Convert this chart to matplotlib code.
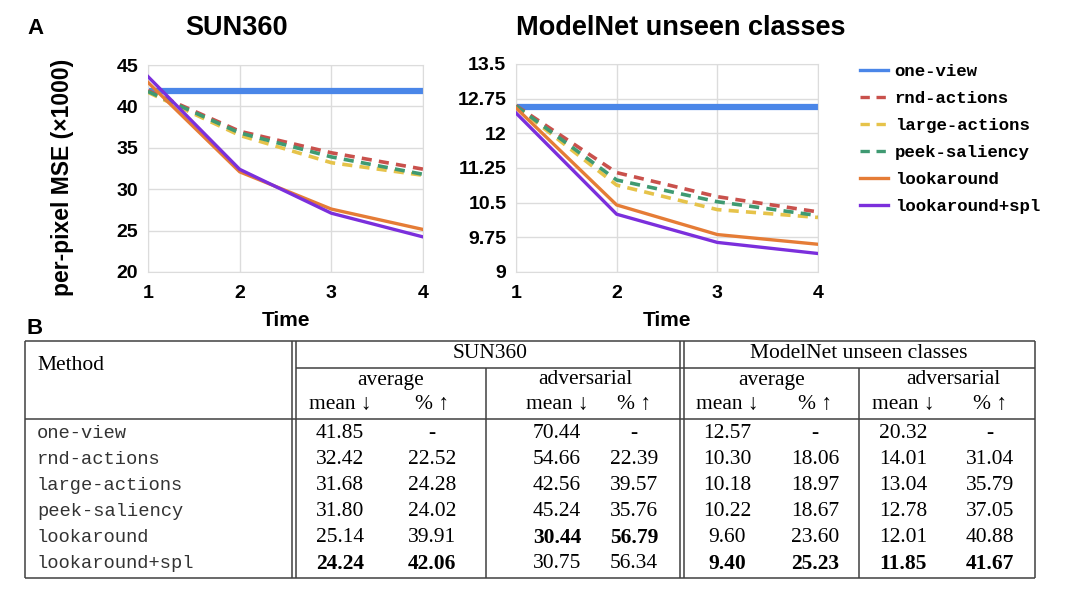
import matplotlib
matplotlib.use('Agg')
import matplotlib.pyplot as plt
from matplotlib.lines import Line2D

# ---- data ----
time_steps = [1, 2, 3, 4]

methods = ['one-view', 'rnd-actions', 'large-actions', 'peek-saliency',
           'lookaround', 'lookaround+spl']

sun_one_view = [41.85, 41.85, 41.85, 41.85]
sun_rnd = [41.9, 37.0, 34.4, 32.42]
sun_large = [41.7, 36.5, 33.2, 31.68]
sun_peek = [41.8, 36.8, 33.9, 31.80]
sun_look = [42.9, 32.1, 27.6, 25.14]
sun_spl = [43.6, 32.4, 27.1, 24.24]

mn_one_view = [12.57, 12.57, 12.57, 12.57]
mn_rnd = [12.6, 11.15, 10.63, 10.30]
mn_large = [12.58, 10.88, 10.35, 10.18]
mn_peek = [12.59, 10.99, 10.52, 10.22]
mn_look = [12.55, 10.45, 9.81, 9.60]
mn_spl = [12.44, 10.25, 9.64, 9.40]

sun_ticks = [20, 25, 30, 35, 40, 45]
mn_ticks = [9, 9.75, 10.5, 11.25, 12, 12.75, 13.5]
mn_tick_labels = ['9', '9.75', '10.5', '11.25', '12', '12.75', '13.5']

# table values (strings as printed)
sun_avg_mean = ['41.85', '32.42', '31.68', '31.80', '25.14', '24.24']
sun_avg_pct = ['-', '22.52', '24.28', '24.02', '39.91', '42.06']
sun_adv_mean = ['70.44', '54.66', '42.56', '45.24', '30.44', '30.75']
sun_adv_pct = ['-', '22.39', '39.57', '35.76', '56.79', '56.34']
mn_avg_mean = ['12.57', '10.30', '10.18', '10.22', '9.60', '9.40']
mn_avg_pct = ['-', '18.06', '18.97', '18.67', '23.60', '25.23']
mn_adv_mean = ['20.32', '14.01', '13.04', '12.78', '12.01', '11.85']
mn_adv_pct = ['-', '31.04', '35.79', '37.05', '40.88', '41.67']
# which cells are bold: (row, col)
bold_cells = {(4, 2), (4, 3), (5, 0), (5, 1), (5, 4), (5, 5), (5, 6), (5, 7)}

colors = ['#4a86e8', '#c9514c', '#e6c34a', '#3f9a72', '#e57c36', '#7b2fdc']

W, H = 1080, 592
fig = plt.figure(figsize=(W / 100, H / 100), dpi=100)

sans = ['Liberation Sans', 'DejaVu Sans']
serif = ['Liberation Serif', 'DejaVu Serif']
mono = ['Liberation Mono', 'DejaVu Sans Mono']


def px_axes(x0, y0, x1, y1):
    return fig.add_axes([x0 / W, 1 - y1 / H, (x1 - x0) / W, (y1 - y0) / H])


def style_axes(ax):
    ax.grid(True, color='#dcdcdc', lw=1)
    ax.set_axisbelow(True)
    for s in ax.spines.values():
        s.set_color('#dcdcdc')
    ax.tick_params(axis='y', length=0, pad=7)
    ax.tick_params(axis='x', length=0, pad=9)
    for lab in ax.get_xticklabels() + ax.get_yticklabels():
        lab.set_fontfamily(sans)
        lab.set_fontweight('bold')
        lab.set_fontsize(14)
    ax.set_xlim(1, 4)
    ax.set_xticks(time_steps)
    ax.set_xlabel('Time', fontsize=15, fontweight='bold', family=sans, labelpad=7)


def draw_lines(ax, series):
    handles = []
    for i, (name, vals) in enumerate(zip(methods, series)):
        if i == 0:
            h, = ax.plot(time_steps, vals, color=colors[i], lw=4.5, label=name,
                         solid_capstyle='butt', zorder=2)
        elif i in (1, 2, 3):
            h, = ax.plot(time_steps, vals, color=colors[i], lw=2.6, label=name,
                         dashes=(2.8, 2.0), zorder=3)
        else:
            h, = ax.plot(time_steps, vals, color=colors[i], lw=2.4, label=name, zorder=4)
        handles.append(h)
    return handles


ax1 = px_axes(148, 65, 423, 272)
handles = draw_lines(ax1, [sun_one_view, sun_rnd, sun_large, sun_peek, sun_look, sun_spl])
ax1.set_ylim(20, 45)
ax1.set_yticks(sun_ticks)
style_axes(ax1)

ax2 = px_axes(516, 64, 818, 272)
draw_lines(ax2, [mn_one_view, mn_rnd, mn_large, mn_peek, mn_look, mn_spl])
ax2.set_ylim(9, 13.5)
ax2.set_yticks(mn_ticks)
ax2.set_yticklabels(mn_tick_labels)
style_axes(ax2)

fig.text(237 / W, 1 - 28 / H, 'SUN360', ha='center', va='center',
         fontsize=19.5, fontweight='bold', family=sans)
fig.text(681 / W, 1 - 28 / H, 'ModelNet unseen classes', ha='center', va='center',
         fontsize=19.5, fontweight='bold', family=sans)
fig.text(35 / W, 1 - 28 / H, 'A', ha='center', va='center',
         fontsize=16, fontweight='bold', family=sans)
fig.text(35 / W, 1 - 328 / H, 'B', ha='center', va='center',
         fontsize=16, fontweight='bold', family=sans)
fig.text(62 / W, 1 - 177 / H, 'per-pixel MSE (\u00d71000)', ha='center', va='center',
         rotation=90, fontsize=16.5, fontweight='bold', family=sans)

leg_handles = [Line2D([], [], color=h.get_color(), lw=2.4,
                      dashes=(2.8, 2.0) if i in (1, 2, 3) else (None, None))
               for i, h in enumerate(handles)]
fig.legend(leg_handles, methods, loc='upper left',
           bbox_to_anchor=(860 / W, 1 - 64 / H), frameon=False,
           prop={'family': mono, 'weight': 'bold', 'size': 12.5},
           handlelength=1.6, handletextpad=0.4, labelspacing=0.68, borderpad=0,
           borderaxespad=0)

# ---- table (panel B) ----
tab = fig.add_axes([0, 0, 1, 1])
tab.set_xlim(0, W)
tab.set_ylim(H, 0)
tab.axis('off')

lc = '#404040'
lw = 1.1
top, mid, head, bot = 341, 368, 419, 578
left, right = 25, 1035


def hline(y, x0, x1):
    tab.plot([x0, x1], [y, y], color=lc, lw=lw, solid_capstyle='butt')


def vline(x, y0, y1):
    tab.plot([x, x], [y0, y1], color=lc, lw=lw, solid_capstyle='butt')


hline(top, left, right)
hline(bot, left, right)
hline(head, left, right)
hline(mid, 296, right)
vline(left, top, bot)
vline(right, top, bot)
vline(292, top, bot)
vline(296, top, bot)
vline(486, mid, bot)
vline(680, top, bot)
vline(684, top, bot)
vline(859, mid, bot)

num_size = 15.5
tab.text(37, 366, 'Method', ha='left', va='center', fontsize=num_size, family=serif)
tab.text(490, 354, 'SUN360', ha='center', va='center', fontsize=num_size, family=serif)
tab.text(859, 354, 'ModelNet unseen classes', ha='center', va='center',
         fontsize=num_size, family=serif)

col_x = [340, 432, 557, 634, 727, 815, 903, 990]
group_x = [391, 585, 772, 953]
group_names = ['average', 'adversarial', 'average', 'adversarial']
for gx, gname in zip(group_x, group_names):
    tab.text(gx, 380, gname, ha='center', va='center', fontsize=num_size, family=serif)
for i, cx in enumerate(col_x):
    lab = 'mean \u2193' if i % 2 == 0 else '% \u2191'
    tab.text(cx, 405, lab, ha='center', va='center', fontsize=num_size, family=serif)

columns = [sun_avg_mean, sun_avg_pct, sun_adv_mean, sun_adv_pct,
           mn_avg_mean, mn_avg_pct, mn_adv_mean, mn_adv_pct]
row_y0, row_dy = 433, 26.2
for r, name in enumerate(methods):
    y = row_y0 + r * row_dy
    tab.text(37, y, name, ha='left', va='center', fontsize=13.5, family=mono,
             color='#333333')
    for c, col in enumerate(columns):
        tab.text(col_x[c], y, col[r], ha='center', va='center', fontsize=num_size,
                 family=serif, fontweight='bold' if (r, c) in bold_cells else 'normal')

fig.savefig('out.png', dpi=100)
